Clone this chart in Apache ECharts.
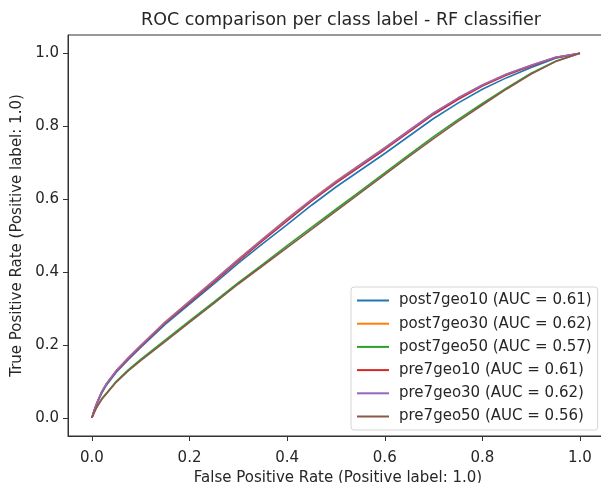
<!DOCTYPE html>
<html>
<head>
<meta charset="utf-8">
<script src="https://cdn.jsdelivr.net/npm/echarts@6/dist/echarts.min.js"></script>
<style>
  html, body { margin: 0; padding: 0; background: #fff; overflow: hidden; }
  #chart { width: 620px; height: 483px; }
</style>
</head>
<body>
<div id="chart"></div>
<script>
// False positive rate sample points shared by every curve
const fpr = [0, 0.005, 0.01, 0.02, 0.03, 0.05, 0.075, 0.1, 0.15, 0.2, 0.25, 0.3, 0.35,
             0.4, 0.45, 0.5, 0.55, 0.6, 0.65, 0.7, 0.75, 0.8, 0.85, 0.9, 0.95, 1.0];

// True positive rate for each class label at the fpr points above
const tprPost7geo10 = [0, 0.021, 0.038, 0.067, 0.090, 0.125, 0.160, 0.193, 0.256, 0.312, 0.367, 0.424, 0.478,
                       0.530, 0.583, 0.633, 0.679, 0.725, 0.773, 0.821, 0.863, 0.901, 0.933, 0.961, 0.986, 1.0];
const tprPost7geo30 = [0, 0.022, 0.041, 0.071, 0.094, 0.130, 0.166, 0.199, 0.263, 0.320, 0.377, 0.435, 0.491,
                       0.546, 0.599, 0.649, 0.695, 0.741, 0.789, 0.836, 0.877, 0.913, 0.943, 0.967, 0.989, 1.0];
const tprPost7geo50 = [0, 0.016, 0.030, 0.052, 0.068, 0.100, 0.132, 0.160, 0.213, 0.266, 0.318, 0.371, 0.421,
                       0.472, 0.522, 0.572, 0.622, 0.672, 0.722, 0.771, 0.818, 0.862, 0.905, 0.945, 0.978, 1.0];
const tprPre7geo10  = [0, 0.022, 0.040, 0.070, 0.093, 0.128, 0.163, 0.196, 0.260, 0.316, 0.372, 0.430, 0.486,
                       0.540, 0.594, 0.644, 0.690, 0.736, 0.784, 0.832, 0.873, 0.910, 0.940, 0.965, 0.988, 1.0];
const tprPre7geo30  = [0, 0.022, 0.040, 0.071, 0.094, 0.129, 0.165, 0.198, 0.262, 0.319, 0.376, 0.434, 0.490,
                       0.545, 0.598, 0.648, 0.694, 0.740, 0.788, 0.836, 0.877, 0.913, 0.943, 0.967, 0.989, 1.0];
const tprPre7geo50  = [0, 0.015, 0.029, 0.050, 0.066, 0.098, 0.129, 0.157, 0.209, 0.262, 0.314, 0.367, 0.417,
                       0.467, 0.517, 0.567, 0.617, 0.667, 0.717, 0.766, 0.813, 0.858, 0.902, 0.943, 0.977, 1.0];

const labels = ['post7geo10', 'post7geo30', 'post7geo50', 'pre7geo10', 'pre7geo30', 'pre7geo50'];
const aucs = ['0.61', '0.62', '0.57', '0.61', '0.62', '0.56'];
const tprs = [tprPost7geo10, tprPost7geo30, tprPost7geo50, tprPre7geo10, tprPre7geo30, tprPre7geo50];
const colors = ['#1f77b4', '#ff7f0e', '#2ca02c', '#d62728', '#9467bd', '#8c564b'];

const tickValues = [0, 0.2, 0.4, 0.6, 0.8, 1.0];

const FONT = 'DejaVu Sans';
const INK = '#262626';
const SPINE = '#333333';
const X_MIN = -0.049, X_MAX = 1.0574;
const Y_MIN = -0.05, Y_MAX = 1.05;

const series = labels.map((name, i) => ({
  name: name + ' (AUC = ' + aucs[i] + ')',
  type: 'line',
  data: fpr.map((x, j) => [x, tprs[i][j]]),
  smooth: false,
  symbol: 'none',
  lineStyle: { width: 1.6, color: colors[i] },
  itemStyle: { color: colors[i] },
  animation: false
}));

const chart = echarts.init(document.getElementById('chart'), null, { renderer: 'canvas' });
chart.setOption({
  backgroundColor: '#fff',
  animation: false,
  title: {
    text: 'ROC comparison per class label - RF classifier',
    left: 336,
    textAlign: 'center',
    top: 6,
    textStyle: { fontFamily: FONT, fontSize: 17.5, fontWeight: 'normal', color: INK }
  },
  // the plot frame runs past the right edge of the visible window
  grid: {
    left: 68,
    top: 35,
    width: 540,
    height: 401,
    outerBoundsMode: 'none',
    containLabel: false,
    show: true,
    borderColor: SPINE,
    borderWidth: 1,
    backgroundColor: 'transparent'
  },
  xAxis: {
    type: 'value',
    min: X_MIN,
    max: X_MAX,
    name: 'False Positive Rate (Positive label: 1.0)',
    nameLocation: 'middle',
    nameGap: 27,
    nameTextStyle: { fontFamily: FONT, fontSize: 15, color: INK },
    axisLine: { show: true, onZero: false, lineStyle: { color: SPINE, width: 1 } },
    axisTick: { show: true, length: 5, customValues: tickValues, lineStyle: { color: SPINE } },
    axisLabel: {
      customValues: tickValues,
      formatter: v => v.toFixed(1),
      fontFamily: FONT, fontSize: 15, color: INK, margin: 15
    },
    splitLine: { show: false }
  },
  yAxis: {
    type: 'value',
    min: Y_MIN,
    max: Y_MAX,
    name: 'True Positive Rate (Positive label: 1.0)',
    nameLocation: 'middle',
    nameGap: 43,
    nameTextStyle: { fontFamily: FONT, fontSize: 15, color: INK },
    axisLine: { show: true, onZero: false, lineStyle: { color: SPINE, width: 1 } },
    axisTick: { show: true, length: 5, customValues: tickValues, lineStyle: { color: SPINE } },
    axisLabel: {
      customValues: tickValues,
      formatter: v => v.toFixed(1),
      fontFamily: FONT, fontSize: 15, color: INK, margin: 9
    },
    splitLine: { show: false }
  },
  legend: {
    orient: 'vertical',
    left: 351,
    top: 287,
    padding: [5, 6, 5, 6],
    icon: 'rect',
    itemWidth: 32,
    itemHeight: 2,
    itemGap: 6.2,
    backgroundColor: 'rgba(255,255,255,0.85)',
    borderColor: '#d5d5d5',
    borderWidth: 1,
    borderRadius: 3,
    textStyle: { fontFamily: FONT, fontSize: 15, lineHeight: 17, color: INK, padding: [0, 0, 0, 5] },
    data: series.map(s => s.name)
  },
  series: series
});
</script>
</body>
</html>
